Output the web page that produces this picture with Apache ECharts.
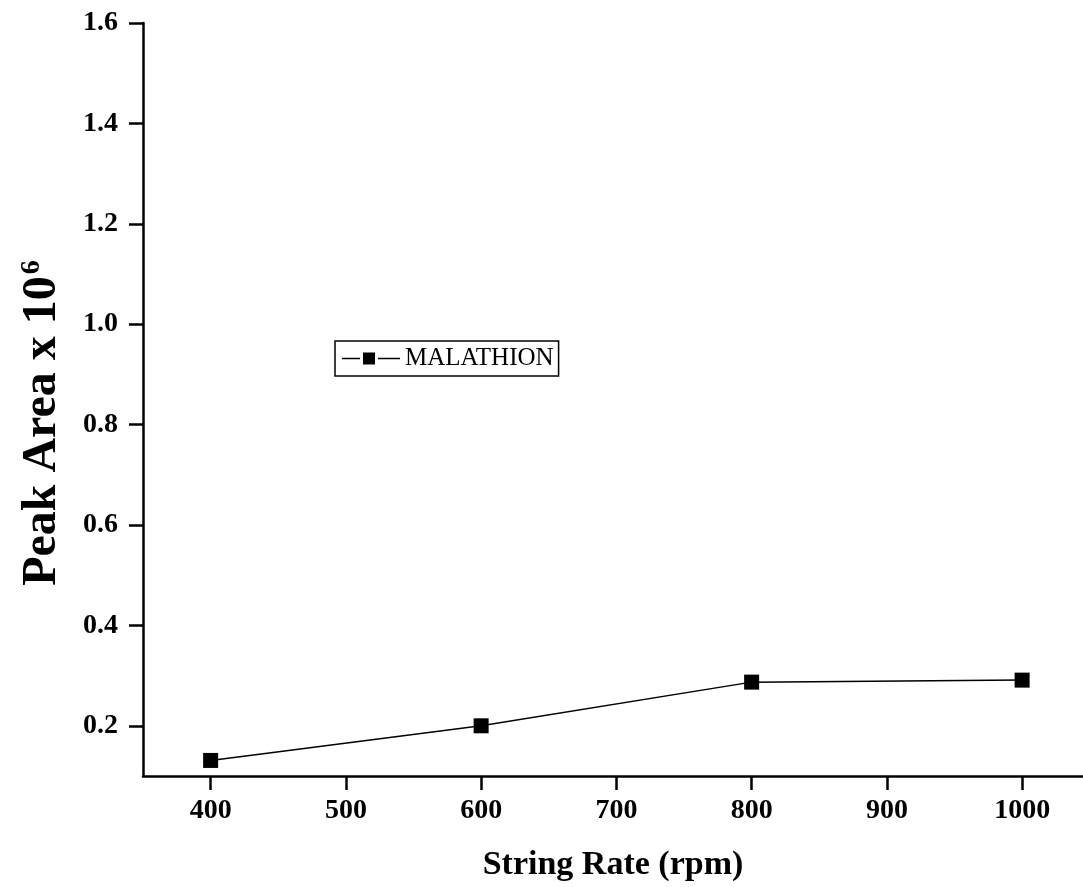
<!DOCTYPE html>
<html>
<head>
<meta charset="utf-8">
<script src="https://cdn.jsdelivr.net/npm/echarts@6/dist/echarts.min.js"></script>
<style>
html,body{margin:0;padding:0;background:#fff;}
#chart{width:1083px;height:887px;}
</style>
</head>
<body>
<div id="chart"></div>
<script>
const xValues = [400, 600, 800, 1000];
const malathion = [0.131, 0.200, 0.287, 0.291];
const xTicks = [400, 500, 600, 700, 800, 900, 1000];
const yTicks = [0.2, 0.4, 0.6, 0.8, 1.0, 1.2, 1.4, 1.6];
const seriesName = 'MALATHION';
const xTitle = 'String Rate (rpm)';

const serif = "'Liberation Serif', 'Times New Roman', serif";
const chart = echarts.init(document.getElementById('chart'), null, {renderer: 'canvas'});

chart.setOption({
  backgroundColor: '#fff',
  animation: false,
  grid: {left: 143, right: 0, top: 23, bottom: 107, containLabel: false},
  xAxis: {
    type: 'value', min: 350, max: 1045,
    name: xTitle, nameLocation: 'middle', nameGap: 72,
    nameTextStyle: {fontFamily: serif, fontWeight: 'bold', fontSize: 34, color: '#000'},
    axisLine: {show: true, onZero: false, lineStyle: {color: '#000', width: 2.5}},
    axisTick: {show: true, inside: false, length: 14, lineStyle: {color: '#000', width: 2.5}, customValues: xTicks},
    axisLabel: {margin: 21, fontFamily: serif, fontWeight: 'bold', fontSize: 28, color: '#000', customValues: xTicks,
      formatter: v => String(v)},
    splitLine: {show: false}
  },
  yAxis: {
    type: 'value', min: 0.1, max: 1.6,
    axisLine: {show: true, onZero: false, lineStyle: {color: '#000', width: 2.5}},
    axisTick: {show: true, inside: false, length: 14, lineStyle: {color: '#000', width: 2.5}, customValues: yTicks},
    axisLabel: {margin: 25, fontFamily: serif, fontWeight: 'bold', fontSize: 28, color: '#000', customValues: yTicks,
      formatter: v => v.toFixed(1)},
    splitLine: {show: false}
  },
  legend: {
    show: true, left: 335, top: 341, orient: 'horizontal',
    padding: [5, 5, 5, 7], borderColor: '#000', borderWidth: 1.5, backgroundColor: '#fff',
    itemWidth: 58, itemHeight: 12,
    icon: 'path://M0,5.25 H18 V6.75 H0 Z M21,0 H33 V12 H21 Z M36,5.25 H58 V6.75 H36 Z',
    itemStyle: {color: '#000'},
    textStyle: {fontFamily: serif, fontSize: 25, color: '#000'},
    data: [seriesName]
  },
  graphic: [{
    type: 'text', x: 42, y: 423, rotation: Math.PI / 2,
    style: {
      text: '{m|Peak Area x 10}{s|6}',
      align: 'center', verticalAlign: 'middle',
      rich: {
        m: {fontFamily: serif, fontWeight: 'bold', fontSize: 48, fill: '#000', verticalAlign: 'bottom'},
        s: {fontFamily: serif, fontWeight: 'bold', fontSize: 28, fill: '#000', verticalAlign: 'top', padding: [0, 0, 21, 2]}
      }
    }
  }],
  series: [{
    name: seriesName, type: 'line',
    data: xValues.map((x, i) => [x, malathion[i]]),
    symbol: 'rect', symbolSize: 15,
    lineStyle: {color: '#000', width: 1.5},
    itemStyle: {color: '#000'}
  }]
});
</script>
</body>
</html>
